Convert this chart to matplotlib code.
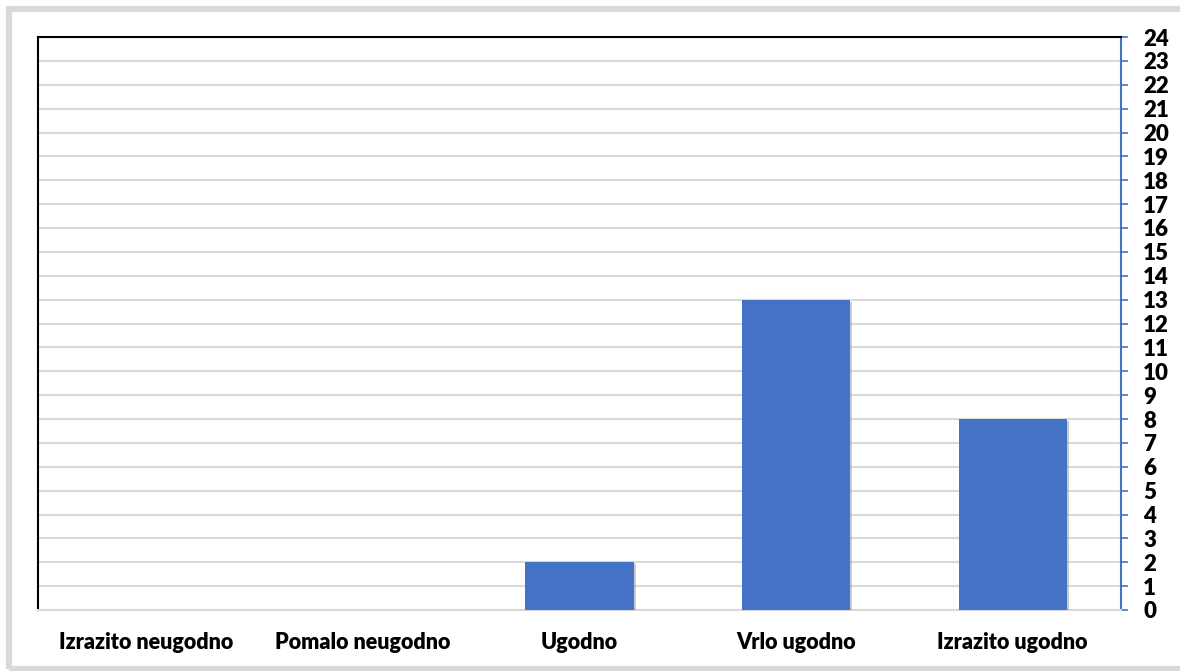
import matplotlib.pyplot as plt
import matplotlib.patheffects as pe
from matplotlib.patches import Rectangle

categories = ['Izrazito neugodno', 'Pomalo neugodno', 'Ugodno', 'Vrlo ugodno', 'Izrazito ugodno']
counts = [0, 0, 2, 13, 8]
yticks = list(range(0, 25))

plt.rcParams['font.family'] = ['Lato', 'DejaVu Sans']

fig = plt.figure(figsize=(11.8, 6.71), dpi=100)
# light grey frame round the chart, open on the right like the reference
fig.patches.append(Rectangle((8.5 / 1180, 2 / 671), 1.05, 1 - 10.5 / 671, transform=fig.transFigure,
                             fill=False, edgecolor='#d9d9d9', linewidth=4.5))
ax = fig.add_axes([38 / 1180, 1 - 610 / 671, (1121 - 38) / 1180, (610 - 37) / 671])

x = range(len(categories))
bars = ax.bar(x, counts, width=0.5, color='#4472c4', zorder=3)
for b in bars:
    b.set_path_effects([pe.SimplePatchShadow(offset=(1.5, -1.5), shadow_rgbFace='#999999', alpha=0.5), pe.Normal()])

ax.set_xlim(-0.5, len(categories) - 0.5)
ax.set_ylim(0, 24)
ax.set_yticks(yticks)
ax.yaxis.tick_right()
ax.yaxis.grid(True, color='#d9d9d9', linewidth=1.5, zorder=0)
ax.set_xticks(list(x))
ax.set_xticklabels(categories, fontsize=15.5, fontweight='heavy')
ax.tick_params(axis='x', length=0, pad=16)
ax.tick_params(axis='y', length=5, width=1.2, color='#4472c4', labelsize=16, pad=11)
for lab in ax.get_yticklabels():
    lab.set_fontweight('heavy')

ax.spines['left'].set_color('black')
ax.spines['left'].set_linewidth(1.5)
ax.spines['top'].set_color('black')
ax.spines['top'].set_linewidth(1.5)
ax.spines['right'].set_color('#4472c4')
ax.spines['right'].set_linewidth(1.5)
ax.spines['bottom'].set_color('#d9d9d9')
ax.spines['bottom'].set_linewidth(1.5)

plt.savefig('out.png', dpi=100)
plt.close()
